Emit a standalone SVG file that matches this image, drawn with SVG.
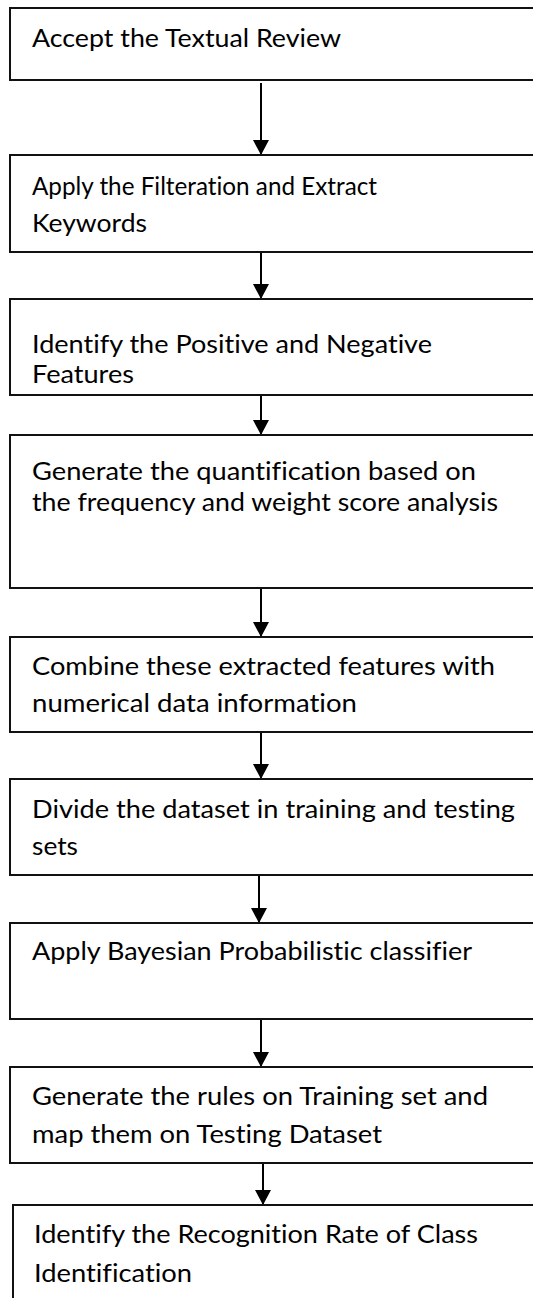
<svg xmlns="http://www.w3.org/2000/svg" width="533" height="1298" viewBox="0 0 533 1298">
<style>
.box{fill:#fff;stroke:#111;stroke-width:2}
.t{font-family:Lato,"Open Sans","Liberation Sans",sans-serif;font-size:25px;fill:#000;font-variant-ligatures:none;font-feature-settings:"liga" 0,"dlig" 0}
.conn{stroke:#000;stroke-width:2;fill:none;marker-end:url(#ah)}
</style>
<defs>
<marker id="ah" viewBox="0 0 15 16" refX="15" refY="8" markerWidth="15" markerHeight="16" markerUnits="userSpaceOnUse" orient="auto">
<path d="M0,0 L15,8 L0,16 z" fill="#000"/>
</marker>
</defs>
<rect width="533" height="1298" fill="#fff"/>
<g id="connectors">
<path class="conn" d="M261,83 V155"/>
<path class="conn" d="M261,253 V299"/>
<path class="conn" d="M261,396 V435"/>
<path class="conn" d="M261,589 V637"/>
<path class="conn" d="M261,733 V779"/>
<path class="conn" d="M259,876 V923"/>
<path class="conn" d="M261,1020 V1067"/>
<path class="conn" d="M263,1157 V1205"/>
</g>
<g id="n1">
<rect class="box" x="10" y="8" width="540" height="72"/>
<text class="t" x="32" y="47" textLength="309" lengthAdjust="spacingAndGlyphs">Accept the Textual Review</text>
</g>
<g id="n2">
<rect class="box" x="10" y="155" width="540" height="97"/>
<text class="t" x="32" y="195" textLength="345" lengthAdjust="spacingAndGlyphs">Apply the Filteration and Extract</text>
<text class="t" x="32" y="232" textLength="115" lengthAdjust="spacingAndGlyphs">Keywords</text>
</g>
<g id="n3">
<rect class="box" x="10" y="299" width="540" height="96"/>
<text class="t" x="32" y="353" textLength="400" lengthAdjust="spacingAndGlyphs">Identify the Positive and Negative</text>
<text class="t" x="32" y="383" textLength="102" lengthAdjust="spacingAndGlyphs">Features</text>
</g>
<g id="n4">
<rect class="box" x="10" y="435" width="540" height="153"/>
<text class="t" x="32" y="480" textLength="444" lengthAdjust="spacingAndGlyphs">Generate the quantification based on</text>
<text class="t" x="32" y="511" textLength="466" lengthAdjust="spacingAndGlyphs">the frequency and weight score analysis</text>
</g>
<g id="n5">
<rect class="box" x="10" y="637" width="540" height="95"/>
<text class="t" x="32" y="675" textLength="463" lengthAdjust="spacingAndGlyphs">Combine these extracted features with</text>
<text class="t" x="32" y="712" textLength="325" lengthAdjust="spacingAndGlyphs">numerical data information</text>
</g>
<g id="n6">
<rect class="box" x="10" y="779" width="540" height="96"/>
<text class="t" x="32" y="818" textLength="483" lengthAdjust="spacingAndGlyphs">Divide the dataset in training and testing</text>
<text class="t" x="32" y="855" textLength="46" lengthAdjust="spacingAndGlyphs">sets</text>
</g>
<g id="n7">
<rect class="box" x="10" y="923" width="540" height="96"/>
<text class="t" x="32" y="960" textLength="440" lengthAdjust="spacingAndGlyphs">Apply Bayesian Probabilistic classifier</text>
</g>
<g id="n8">
<rect class="box" x="10" y="1067" width="540" height="96"/>
<text class="t" x="32" y="1105" textLength="456" lengthAdjust="spacingAndGlyphs">Generate the rules on Training set and</text>
<text class="t" x="32" y="1143" textLength="350" lengthAdjust="spacingAndGlyphs">map them on Testing Dataset</text>
</g>
<g id="n9">
<rect class="box" x="13" y="1205" width="540" height="120"/>
<text class="t" x="34" y="1243" textLength="444" lengthAdjust="spacingAndGlyphs">Identify the Recognition Rate of Class</text>
<text class="t" x="34" y="1282" textLength="158" lengthAdjust="spacingAndGlyphs">Identification</text>
</g>
</svg>
